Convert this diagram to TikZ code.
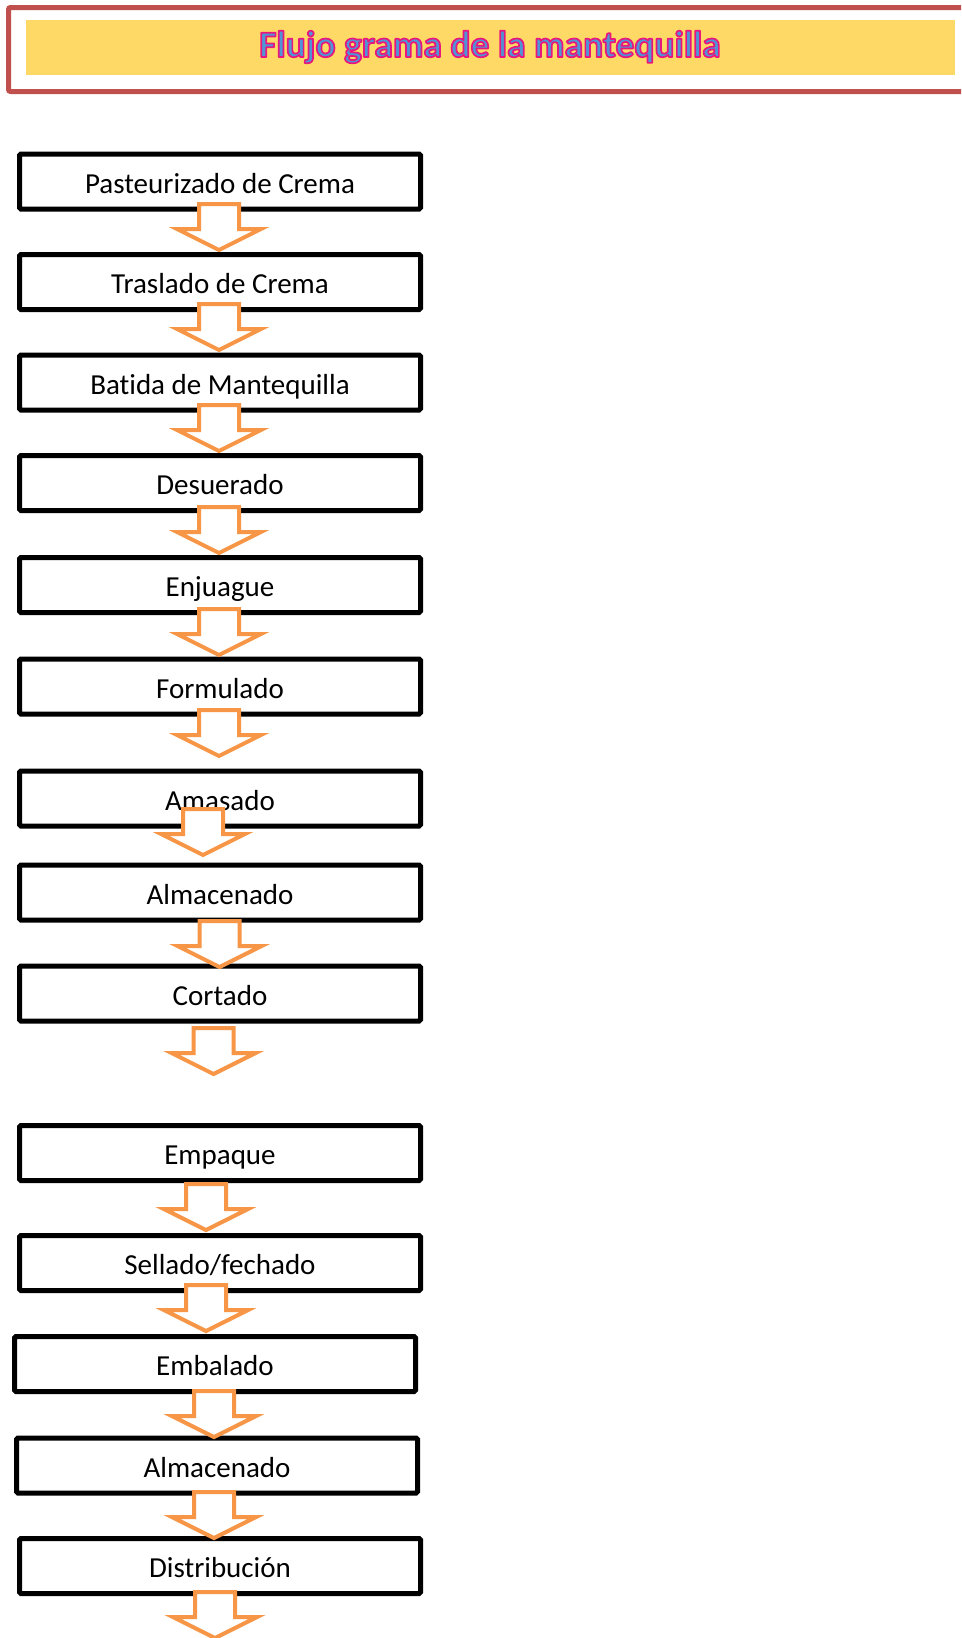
\documentclass[tikz,border=0pt]{standalone}
\usepackage{fontspec}
\setmainfont{Carlito}[RawFeature={-liga}]
\definecolor{frameRed}{HTML}{C0504D}
\definecolor{titleYellow}{HTML}{FFD966}
\definecolor{arrowOrange}{HTML}{F79646}
\definecolor{titleBlue}{HTML}{4F94D4}
\newcommand{\flowarrow}[2]{%
  \draw[flowarr] ({#1-20},{#2}) -- ({#1+20},{#2}) -- ({#1+20},{#2+25}) -- ({#1+42},{#2+25}) -- ({#1},{#2+46}) -- ({#1-42},{#2+25}) -- ({#1-20},{#2+25}) -- cycle;}
\newcommand{\outlinedtext}[1]{\special{pdf:literal direct 2 Tr 1.7 w 1 j 0.91 0.09 0.49 RG}#1\special{pdf:literal direct 0 Tr}}
\begin{document}
\begin{tikzpicture}[x=1pt,y=-1pt,
  stepbox/.style={draw=black,line width=5pt,minimum width=401pt,minimum height=55pt,inner sep=0pt,rounded corners=1.5pt,text height=24pt,text depth=0.3pt,font=\fontsize{29}{34}\selectfont},
  flowarr/.style={draw=arrowOrange,fill=white,line width=4pt,line join=miter},
  titletext/.style={anchor=base,inner sep=0pt,font=\fontsize{37.5}{42}\selectfont\bfseries}]
\useasboundingbox (0,0) rectangle (961,1638);
\clip (0,0) rectangle (961,1638);
\fill[white] (0,0) rectangle (961,1638);
% title
\draw[line width=5pt,draw=frameRed,rounded corners=2pt] (8.5,7.5) rectangle (990,91.5);
\fill[titleYellow] (26,20) rectangle (955,75);
\node[titletext,text=titleBlue] (title) at (490,57) {\outlinedtext{Flujo grama de la mantequilla}};
% boxes
\node[stepbox] (b1)  at (220,181.5)  {Pasteurizado de Crema};
\node[stepbox] (b2)  at (220,282)    {Traslado de Crema};
\node[stepbox] (b3)  at (220,382.5)  {Batida de Mantequilla};
\node[stepbox] (b4)  at (220,483)    {Desuerado};
\node[stepbox] (b5)  at (220,585)    {Enjuague};
\node[stepbox] (b6)  at (220,686.5)  {Formulado};
\node[stepbox] (b7)  at (220,798.5)  {Amasado};
\node[stepbox] (b8)  at (220,892.5)  {Almacenado};
\node[stepbox] (b9)  at (220,993.5)  {Cortado};
\node[stepbox] (b10) at (220,1153)   {Empaque};
\node[stepbox] (b11) at (220,1263)   {Sellado/fechado};
\node[stepbox] (b12) at (215,1364)   {Embalado};
\node[stepbox] (b13) at (217,1465.5) {Almacenado};
\node[stepbox] (b14) at (220,1566)   {Distribución};
% arrows
\flowarrow{219}{204}
\flowarrow{219}{304}
\flowarrow{219}{405}
\flowarrow{219}{507}
\flowarrow{219}{609}
\flowarrow{219}{710}
\flowarrow{203}{809}
\flowarrow{219.5}{921}
\flowarrow{213.5}{1028}
\flowarrow{206}{1184}
\flowarrow{206}{1285}
\flowarrow{214}{1391}
\flowarrow{214}{1492}
\flowarrow{215}{1592}
\end{tikzpicture}
\end{document}
